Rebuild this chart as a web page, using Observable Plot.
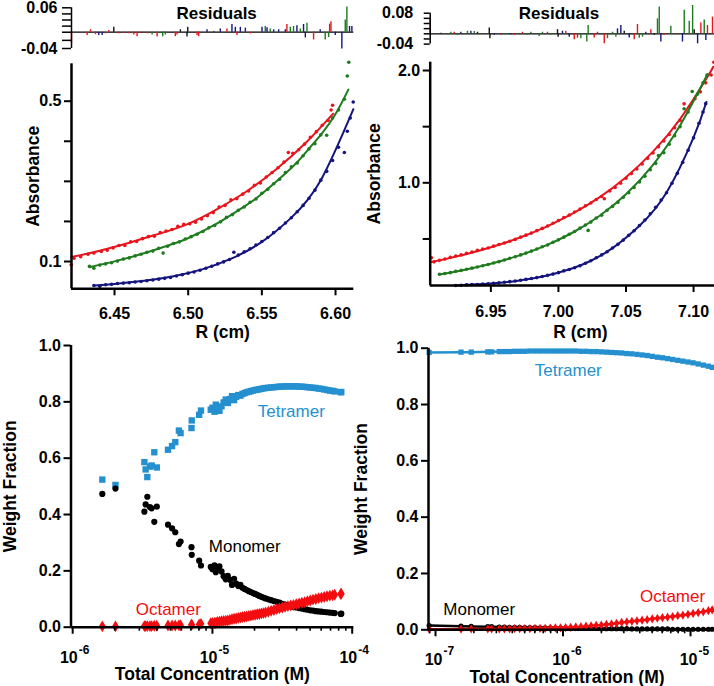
<!DOCTYPE html>
<html><head><meta charset="utf-8">
<script src="https://cdn.jsdelivr.net/npm/d3@7"></script>
<script src="https://cdn.jsdelivr.net/npm/@observablehq/plot@0.6"></script>
<style>
body{margin:0;background:#fff;}
#fig{position:relative;width:714px;height:686px;overflow:hidden;background:#fff;}
#fig svg{position:absolute;left:0;top:0;}
</style></head><body><div id="fig"></div>
<script>
// ---------------- Top-left: absorbance vs radius ----------------
const tlRedR = [6.4206,6.4225,6.427,6.432,6.436,6.441,6.445,6.449,6.453,6.457,6.461,6.465,6.469,6.473,6.477,6.481,6.485,6.489,6.493,6.497,6.501,6.505,6.509,6.513,6.517,6.521,6.525,6.529,6.533,6.537,6.541,6.545,6.549,6.553,6.557,6.561,6.565,6.568,6.571,6.575,6.579,6.583,6.587,6.591,6.595,6.597,6.598];
const tlRedA = [0.092,0.108,0.112,0.118,0.121,0.125,0.128,0.134,0.140,0.140,0.149,0.150,0.157,0.162,0.163,0.172,0.176,0.180,0.188,0.193,0.194,0.198,0.206,0.214,0.222,0.236,0.240,0.254,0.257,0.268,0.276,0.290,0.296,0.311,0.322,0.334,0.348,0.372,0.370,0.379,0.393,0.410,0.424,0.440,0.452,0.478,0.490];
const tlGreenR = [6.433,6.436,6.440,6.444,6.448,6.452,6.456,6.460,6.464,6.468,6.472,6.476,6.480,6.483,6.486,6.490,6.494,6.498,6.502,6.506,6.510,6.514,6.518,6.522,6.526,6.530,6.534,6.538,6.542,6.546,6.550,6.554,6.558,6.562,6.566,6.570,6.574,6.578,6.582,6.586,6.590,6.594,6.598,6.602,6.606,6.608,6.609];
const tlGreenA = [0.088,0.083,0.091,0.094,0.097,0.101,0.106,0.109,0.114,0.118,0.123,0.126,0.133,0.121,0.138,0.145,0.149,0.156,0.162,0.168,0.175,0.184,0.190,0.199,0.210,0.217,0.228,0.236,0.248,0.256,0.270,0.280,0.294,0.305,0.322,0.336,0.346,0.364,0.381,0.394,0.416,0.415,0.458,0.478,0.505,0.563,0.597];
const tlBlueR = [6.436,6.440,6.444,6.448,6.452,6.456,6.460,6.464,6.468,6.472,6.476,6.480,6.484,6.488,6.492,6.496,6.500,6.504,6.508,6.512,6.516,6.520,6.524,6.528,6.531,6.534,6.538,6.542,6.546,6.550,6.554,6.558,6.562,6.566,6.570,6.574,6.578,6.582,6.586,6.590,6.594,6.598,6.602,6.606,6.608,6.610,6.612];
const tlBlueA = [0.040,0.038,0.042,0.043,0.045,0.046,0.047,0.049,0.050,0.052,0.054,0.056,0.058,0.060,0.064,0.067,0.071,0.074,0.078,0.083,0.088,0.094,0.099,0.105,0.123,0.116,0.124,0.132,0.141,0.150,0.160,0.172,0.183,0.196,0.209,0.224,0.240,0.258,0.278,0.303,0.325,0.352,0.385,0.372,0.425,0.458,0.498];
const tlFitRedR = [6.4206,6.44,6.46,6.48,6.50,6.52,6.54,6.56,6.58,6.5984];
const tlFitRedA = [0.111,0.127,0.147,0.169,0.194,0.2315,0.276,0.331,0.397,0.469];
const tlFitGreenR = [6.4329,6.45,6.47,6.49,6.4998,6.52,6.54,6.55,6.57,6.58,6.5904,6.60,6.6087];
const tlFitGreenA = [0.0858,0.1003,0.1204,0.1444,0.158,0.1957,0.242,0.269,0.3335,0.373,0.418,0.468,0.529];
const tlFitBlueR = [6.4363,6.45,6.47,6.49,6.51,6.53,6.55,6.57,6.59,6.6121];
const tlFitBlueA = [0.040,0.044,0.0517,0.0631,0.081,0.1083,0.149,0.2095,0.303,0.48];
const tlXTicks = [6.45,6.50,6.55,6.60];
const tlXLabels = ["6.45","6.50","6.55","6.60"];
const tlYTicks = [0.1,0.2,0.3,0.4,0.5];
const tlYLabels = ["0.1","","","","0.5"];
// residuals (left)
const tlResR = [6.4208,6.4314,6.4337,6.4371,6.4393,6.4416,6.4439,6.4461,6.4495,6.4529,6.4563,6.4597,6.4631,6.4653,6.4676,6.4721,6.4755,6.4789,6.4827,6.4845,6.4913,6.4924,6.4947,6.4992,6.4997,6.5060,6.5071,6.5128,6.5173,6.5218,6.5263,6.5297,6.5320,6.5331,6.5354,6.5388,6.5422,6.5501,6.5523,6.5535,6.5557,6.5580,6.5614,6.5659,6.5670,6.5693,6.5715,6.5738,6.5761,6.5783,6.5795,6.5806,6.5851,6.5896,6.5930,6.5953,6.5960,6.5969,6.5998,6.6043,6.6066,6.6077,6.6095,6.6111];
const tlResV = [-0.029,-0.008,0.006,-0.006,-0.008,-0.008,-0.004,0.004,0.012,-0.004,-0.003,-0.004,-0.007,-0.011,-0.002,-0.004,-0.007,-0.012,-0.011,-0.007,-0.011,-0.007,0.006,-0.012,0.012,-0.008,-0.011,0.006,0.002,0.008,0.008,0.019,0.012,-0.008,0.012,0.010,-0.004,0.012,0.014,0.011,0.008,0.006,0.006,0.006,0.019,0.012,0.014,0.016,0.008,0.019,-0.014,0.022,-0.019,0.006,-0.019,-0.013,0.020,0.026,-0.008,-0.041,0.030,0.062,0.014,0.014];
const tlResC = ["r","r","r","r","b","b","r","r","k","r","r","r","r","r","r","r","g","r","g","g","r","r","k","k","k","r","r","b","b","b","r","b","b","r","b","b","r","b","g","b","g","b","b","b","r","g","g","b","g","b","b","g","r","b","g","g","r","r","b","b","g","g","b","b"];
const tlResTicks = [0.06,0.045,0.03,0.015,0,-0.02,-0.04];
const tlResLabelVals = [0.06,-0.04];
const tlResLabels = ["0.06","-0.04"];

// ---------------- Top-right: absorbance vs radius ----------------
const trRedR = [6.906,6.908,6.912,6.916,6.920,6.924,6.928,6.932,6.936,6.940,6.944,6.948,6.952,6.956,6.960,6.964,6.968,6.972,6.976,6.980,6.984,6.988,6.992,6.996,7.000,7.004,7.008,7.012,7.016,7.020,7.024,7.028,7.032,7.034,7.038,7.042,7.046,7.050,7.054,7.058,7.062,7.066,7.070,7.074,7.078,7.082,7.086,7.090,7.093,7.097,7.101,7.105,7.109,7.113,7.115];
const trRedA = [0.332,0.296,0.310,0.322,0.336,0.348,0.358,0.372,0.384,0.398,0.410,0.420,0.436,0.450,0.464,0.480,0.496,0.516,0.534,0.552,0.574,0.594,0.616,0.640,0.664,0.690,0.712,0.740,0.766,0.796,0.820,0.852,0.878,0.858,0.928,0.958,0.996,1.040,1.082,1.124,1.168,1.218,1.266,1.322,1.372,1.430,1.490,1.556,1.703,1.680,1.748,1.810,1.890,1.960,2.074];
const trGreenR = [6.912,6.916,6.920,6.924,6.928,6.932,6.936,6.940,6.944,6.948,6.952,6.956,6.960,6.964,6.968,6.972,6.976,6.980,6.984,6.988,6.992,6.996,7.000,7.004,7.008,7.012,7.016,7.020,7.022,7.024,7.028,7.032,7.036,7.040,7.044,7.048,7.052,7.056,7.060,7.064,7.068,7.072,7.074,7.078,7.082,7.086,7.090,7.093,7.096,7.099,7.103,7.107,7.110];
const trGreenA = [0.186,0.192,0.200,0.212,0.220,0.230,0.240,0.250,0.262,0.272,0.286,0.298,0.312,0.328,0.342,0.358,0.374,0.392,0.410,0.430,0.446,0.470,0.492,0.516,0.542,0.566,0.596,0.624,0.576,0.650,0.686,0.712,0.756,0.790,0.826,0.872,0.912,0.958,1.008,1.058,1.116,1.172,1.243,1.268,1.344,1.420,1.500,1.659,1.630,1.813,1.790,1.890,1.960];
const trBlueR = [6.924,6.928,6.932,6.936,6.940,6.944,6.948,6.952,6.956,6.960,6.964,6.968,6.972,6.976,6.980,6.984,6.988,6.992,6.996,7.000,7.004,7.008,7.012,7.016,7.020,7.024,7.028,7.032,7.036,7.040,7.044,7.048,7.052,7.056,7.060,7.064,7.068,7.072,7.076,7.080,7.084,7.088,7.092,7.096,7.100,7.104,7.107,7.109];
const trBlueA = [0.086,0.088,0.091,0.093,0.095,0.098,0.101,0.105,0.110,0.115,0.120,0.126,0.132,0.140,0.148,0.156,0.165,0.176,0.187,0.200,0.216,0.228,0.244,0.262,0.283,0.306,0.332,0.358,0.386,0.420,0.452,0.490,0.532,0.573,0.620,0.668,0.724,0.782,0.846,0.912,0.996,1.084,1.182,1.290,1.400,1.530,1.630,1.705];
const trFitRedR = [6.9061,6.93,6.95,6.97,6.99,7.01,7.03,7.05,7.07,7.09,7.11,7.1145];
const trFitRedA = [0.294,0.3595,0.426,0.506,0.6035,0.7225,0.868,1.050,1.278,1.567,1.937,2.033];
const trFitGreenR = [6.9118,6.93,6.95,6.97,6.99,7.01,7.03,7.05,7.07,7.09,7.1103];
const trFitGreenA = [0.184,0.224,0.279,0.349,0.4387,0.553,0.702,0.898,1.160,1.51,1.966];
const trFitBlueR = [6.9241,6.95,6.97,6.99,7.01,7.024,7.04,7.06,7.08,7.10,7.1095];
const trFitBlueA = [0.086,0.103,0.1285,0.170,0.2365,0.306,0.4185,0.618,0.913,1.404,1.72];
const trXTicks = [6.95,7.00,7.05,7.10];
const trXLabels = ["6.95","7.00","7.05","7.10"];
const trYTicks = [0.5,1.0,1.5,2.0];
const trYLabels = ["","1.0","","2.0"];
const trResR = [6.9051,6.9130,6.9204,6.9229,6.9253,6.9278,6.9327,6.9352,6.9377,6.9401,6.9488,6.9493,6.9525,6.9574,6.9599,6.9648,6.9673,6.9734,6.9771,6.9796,6.9858,6.9882,6.9919,6.9944,6.9993,6.9998,7.0030,7.0055,7.0080,7.0117,7.0141,7.0166,7.0210,7.0220,7.0265,7.0289,7.0339,7.0363,7.0400,7.0425,7.0437,7.0462,7.0487,7.0524,7.0561,7.0585,7.0598,7.0622,7.0647,7.0684,7.0709,7.0733,7.0746,7.0758,7.0783,7.0832,7.0869,7.0918,7.0931,7.0968,7.0993,7.1005,7.1030,7.1054,7.1079,7.1091,7.1103,7.1140];
const trResV = [0.058,0.002,0.006,0.006,-0.006,0.006,0.010,0.010,0.009,0.006,0.023,-0.019,-0.006,-0.006,-0.004,-0.004,-0.006,0.006,-0.006,0.006,-0.010,0.006,0.006,-0.006,0.016,-0.013,0.010,0.010,-0.013,-0.023,-0.017,-0.019,-0.032,0.032,-0.016,0.006,-0.039,-0.019,0.006,-0.013,0.019,0.032,0.010,-0.016,-0.023,0.036,-0.017,-0.013,0.006,0.016,-0.006,0.058,0.104,-0.032,-0.006,0.029,-0.004,-0.032,0.091,0.049,0.110,0.016,-0.039,0.042,0.054,-0.026,0.032,0.065];
const trResC = ["r","k","g","r","g","b","g","b","g","k","k","k","b","r","g","b","r","r","g","g","g","g","r","g","k","k","b","r","b","r","r","g","g","g","r","r","r","g","g","g","b","b","k","b","r","r","g","g","b","r","k","g","g","b","r","g","r","b","g","g","g","k","b","r","g","b","r","r"];
const trResTicks = [0.08,0.06,0.04,0.02,0,-0.02,-0.04];
const trResLabelVals = [0.08,-0.04];
const trResLabels = ["0.08","-0.04"];

// ---------------- Bottom-left: weight fraction vs log10 total concentration ----------------
const blLogC = [-5.788,-5.694,-5.487,-5.478,-5.466,-5.447,-5.435,-5.416,-5.398,-5.318,-5.289,-5.266,-5.240,-5.228,-5.150,-5.148,-5.095,-5.082,-5.012,-5.000,-4.985,-4.976,
 -4.965,-4.950,-4.935,-4.920,-4.905,-4.890,-4.875,-4.860,-4.845,-4.830,-4.815,-4.800,-4.785,-4.770,-4.755,-4.740,-4.725,-4.710,-4.695,-4.680,-4.665,-4.650,-4.635,-4.620,-4.600,-4.580,-4.560,-4.540,-4.520,-4.500,-4.480,-4.460,-4.440,-4.420,-4.400,-4.380,-4.360,-4.340,-4.320,-4.300,-4.280,-4.260,-4.240,-4.220,-4.200,-4.180,-4.160,-4.140,-4.125,-4.082,-4.078];
const blTet = [0.524,0.505,0.586,0.560,0.533,0.570,0.574,0.621,0.567,0.630,0.643,0.657,0.698,0.689,0.707,0.734,0.754,0.769,0.772,0.779,0.765,0.790,
 0.772,0.768,0.784,0.798,0.808,0.796,0.810,0.820,0.806,0.818,0.824,0.822,0.828,0.831,0.834,0.836,0.838,0.840,0.842,0.843,0.845,0.846,0.848,0.849,0.850,0.851,0.852,0.853,0.854,0.854,0.855,0.855,0.855,0.855,0.855,0.854,0.854,0.853,0.852,0.851,0.850,0.849,0.847,0.846,0.844,0.842,0.840,0.839,0.837,0.834,0.835];
const blMon = [0.473,0.492,0.410,0.436,0.463,0.426,0.422,0.374,0.428,0.364,0.351,0.337,0.295,0.304,0.284,0.257,0.236,0.219,0.214,0.206,0.220,0.195,
 0.210,0.216,0.198,0.181,0.170,0.182,0.168,0.150,0.172,0.155,0.146,0.150,0.140,0.136,0.132,0.128,0.125,0.121,0.118,0.115,0.111,0.108,0.105,0.102,0.099,0.096,0.093,0.090,0.087,0.083,0.080,0.077,0.075,0.072,0.070,0.068,0.066,0.064,0.062,0.060,0.059,0.057,0.056,0.055,0.054,0.053,0.052,0.051,0.050,0.047,0.048];
const blOct = [0.003,0.003,0.004,0.004,0.004,0.004,0.004,0.005,0.005,0.006,0.006,0.006,0.007,0.007,0.009,0.009,0.010,0.012,0.014,0.015,0.015,0.015,
 0.019,0.020,0.021,0.022,0.023,0.024,0.026,0.028,0.030,0.031,0.033,0.034,0.036,0.037,0.038,0.040,0.041,0.043,0.044,0.046,0.047,0.049,0.050,0.052,0.055,0.058,0.061,0.064,0.067,0.070,0.072,0.075,0.077,0.079,0.082,0.084,0.087,0.089,0.092,0.095,0.098,0.100,0.103,0.105,0.107,0.110,0.112,0.113,0.115,0.118,0.119];
const blMajorTicks = [1e-6,1e-5,1e-4];
const blMajorExp = ["-6","-5","-4"];
const blDecades = [1e-6,1e-5];
const minorMult = [2,3,4,5,6,7,8,9];
const wfTicks = [0,0.2,0.4,0.6,0.8,1.0];
const wfLabels = ["0.0","0.2","0.4","0.6","0.8","1.0"];
const noteText = ["Tetramer","Monomer","Octamer"];
const blNoteLogC = [-4.436,-4.769,-5.316];
const blNoteY = [0.766,0.288,0.062];

// ---------------- Bottom-right ----------------
const brLogC = [-7.05,-6.80,-6.72,-6.59,-6.56,-6.50,-6.46,-6.42,-6.38,-6.34,-6.30,-6.26,-6.22,-6.18,-6.14,-6.10,-6.06,-6.02,-5.98,-5.94,-5.90,-5.86,-5.82,-5.78,-5.74,-5.70,-5.66,-5.62,-5.58,-5.54,-5.50,-5.46,-5.42,-5.38,-5.34,-5.30,-5.26,-5.22,-5.18,-5.14,-5.10,-5.06,-5.02,-4.98,-4.94,-4.90,-4.86,-4.83];
const brTet = [0.985,0.986,0.986,0.987,0.987,0.988,0.988,0.988,0.989,0.989,0.989,0.990,0.990,0.990,0.990,0.990,0.990,0.990,0.990,0.990,0.990,0.989,0.989,0.988,0.988,0.987,0.986,0.985,0.984,0.983,0.981,0.980,0.978,0.976,0.974,0.971,0.968,0.966,0.963,0.960,0.957,0.954,0.951,0.948,0.944,0.940,0.936,0.932];
const brMon = [0.015,0.013,0.012,0.011,0.011,0.010,0.010,0.009,0.009,0.009,0.008,0.008,0.008,0.007,0.007,0.007,0.006,0.006,0.006,0.006,0.005,0.005,0.005,0.005,0.005,0.004,0.004,0.004,0.004,0.004,0.004,0.003,0.003,0.003,0.003,0.003,0.003,0.003,0.003,0.002,0.002,0.002,0.002,0.002,0.002,0.002,0.002,0.002];
const brOct = [0.002,0.002,0.003,0.003,0.003,0.003,0.003,0.003,0.004,0.004,0.004,0.004,0.005,0.005,0.005,0.006,0.007,0.007,0.008,0.009,0.010,0.011,0.013,0.014,0.016,0.017,0.019,0.021,0.023,0.026,0.028,0.030,0.032,0.034,0.036,0.039,0.041,0.043,0.045,0.047,0.050,0.052,0.055,0.058,0.061,0.064,0.068,0.071];
const brMajorTicks = [1e-7,1e-6,1e-5];
const brMajorExp = ["-7","-6","-5"];
const brDecades = [1e-8,1e-7,1e-6,1e-5];
const brNoteLogC = [-5.959,-6.657,-5.141];
const brNoteY = [0.921,0.071,0.118];

// ---------------- styling ----------------
const FONT = "'Liberation Sans', Arial, Helvetica, sans-serif";
const RED = "#e8141c", GREEN = "#1e7b1e", NAVY = "#14147f", DARK = "#111111";
const TET = "#2590d0", OCT = "#f20d10", MON = "#000000";
const resColor = {r: RED, g: GREEN, b: NAVY, k: DARK};
const noteColors = [TET, MON, OCT];
const TITLE = 17.5;
const W = 714, H = 686;
const fig = document.getElementById("fig");

function addPlot(box, x, y, marks) {
  const svg = Plot.plot({
    width: W, height: H,
    marginLeft: box.l, marginRight: W - box.r, marginTop: box.t, marginBottom: H - box.b,
    x, y,
    style: {background: "transparent", overflow: "visible", fontFamily: FONT, fontSize: "16px", fontWeight: "bold", color: "#000"},
    marks
  });
  fig.appendChild(svg);
}
const zip = (xs, ys) => xs.map((x, i) => ({x, y: ys[i]}));

function residualMarks(R, V, C, xmin, ticks, labelVals, labels, tickSize, tickPadding, title) {
  const rows = R.map((r, i) => ({r, v: V[i], c: C[i]}));
  return [
    Plot.ruleY([0], {stroke: "#000", strokeWidth: 1.2}),
    ...["r", "g", "b", "k"].map(code => Plot.ruleX(rows.filter(d => d.c === code), {x: "r", y1: 0, y2: "v", stroke: resColor[code], strokeWidth: 1.4})),
    Plot.ruleX([xmin], {stroke: "#000", strokeWidth: 1.5}),
    Plot.axisY({ticks, tickFormat: () => "", tickSize, strokeWidth: 1.5, label: null}),
    Plot.axisY({ticks: labelVals, tickFormat: d => labels[labelVals.indexOf(d)], tickSize: 0, tickPadding: tickSize + tickPadding, label: null, fontSize: 16}),
    title
  ];
}

function absorbanceMarks(series, xmin, ymin, xTicks, xLabels, yTicks, yLabels, xLabelDy, titleDx, titleDy, yTitleDx) {
  const m = [];
  for (const s of series) {
    m.push(Plot.line(zip(s.fr, s.fa), {x: "x", y: "y", stroke: s.c, strokeWidth: 2, curve: "natural"}));
    m.push(Plot.dot(zip(s.r, s.a), {x: "x", y: "y", r: 1.8, fill: s.c}));
  }
  m.push(Plot.ruleX([xmin], {stroke: "#000", strokeWidth: 2.5}));
  m.push(Plot.ruleY([ymin], {stroke: "#000", strokeWidth: 2.5}));
  m.push(Plot.axisX({ticks: xTicks, tickFormat: () => "", tickSize: 7, strokeWidth: 2, label: null}));
  m.push(Plot.text(xTicks, {x: d => d, text: (d, i) => xLabels[i], frameAnchor: "bottom", dy: xLabelDy, lineAnchor: "middle", fontSize: 16, fontWeight: "bold"}));
  m.push(Plot.axisY({ticks: yTicks, tickFormat: d => yLabels[yTicks.indexOf(d)], tickSize: 7, tickPadding: 3, strokeWidth: 2, label: null, fontSize: 16}));
  m.push(Plot.text(["R (cm)"], {text: d => d, frameAnchor: "bottom", dx: titleDx, dy: titleDy, lineAnchor: "middle", fontSize: TITLE, fontWeight: "bold"}));
  m.push(Plot.text(["Absorbance"], {text: d => d, frameAnchor: "left", dx: yTitleDx, rotate: -90, lineAnchor: "middle", textAnchor: "middle", fontSize: TITLE, fontWeight: "bold"}));
  return m;
}

function fractionMarks(logC, tet, mon, oct, withLines, xmin, majors, exps, decades, dom, notesX, notesY, yTitleDx, xTitleDx, tenDy, supDy, tenDx) {
  const rows = logC.map((l, i) => ({c: 10 ** l, t: tet[i], m: mon[i], o: oct[i]}));
  const minors = decades.flatMap(d => minorMult.map(k => k * d)).filter(v => v >= dom[0] && v <= dom[1]);
  const notes = noteText.map((t, i) => ({t, c: 10 ** notesX[i], y: notesY[i], col: noteColors[i]}));
  const m = [];
  if (withLines) {
    m.push(Plot.line(rows, {x: "c", y: "m", stroke: MON, strokeWidth: 2.5}));
    m.push(Plot.dot(rows, {x: "c", y: "m", r: 2.6, fill: MON}));
    m.push(Plot.line(rows, {x: "c", y: "o", stroke: OCT, strokeWidth: 2.5}));
    m.push(Plot.dot(rows, {x: "c", y: "o", r: 2.8, symbol: "diamond", fill: OCT}));
    m.push(Plot.line(rows, {x: "c", y: "t", stroke: TET, strokeWidth: 2.5}));
    m.push(Plot.dot(rows, {x: "c", y: "t", r: 3.0, symbol: "square", fill: TET}));
  } else {
    m.push(Plot.dot(rows, {x: "c", y: "t", r: 3.6, symbol: "square", fill: TET}));
    m.push(Plot.dot(rows, {x: "c", y: "m", r: 3.1, fill: MON}));
    m.push(Plot.dot(rows, {x: "c", y: "o", r: 3.6, symbol: "diamond", fill: OCT}));
  }
  m.push(Plot.ruleX([xmin], {stroke: "#000", strokeWidth: 2.5}));
  m.push(Plot.ruleY([0], {stroke: "#000", strokeWidth: 2.5}));
  m.push(Plot.axisX({ticks: majors, tickFormat: () => "", tickSize: 7, strokeWidth: 2, label: null}));
  m.push(Plot.axisX({ticks: minors, tickFormat: () => "", tickSize: 4, strokeWidth: 1.6, label: null}));
  m.push(Plot.text(majors, {x: d => d, text: () => "10", frameAnchor: "bottom", dx: tenDx, dy: tenDy, textAnchor: "end", lineAnchor: "middle", fontSize: 16, fontWeight: "bold"}));
  m.push(Plot.text(majors, {x: d => d, text: (d, i) => exps[i], frameAnchor: "bottom", dx: tenDx + 1, dy: supDy, textAnchor: "start", lineAnchor: "middle", fontSize: 12, fontWeight: "bold"}));
  m.push(Plot.axisY({ticks: wfTicks, tickFormat: d => wfLabels[wfTicks.indexOf(d)], tickSize: 7, tickPadding: 3, strokeWidth: 2, label: null, fontSize: 16}));
  m.push(Plot.text(notes, {x: "c", y: "y", text: "t", fill: "col", fontSize: 17, fontWeight: "normal", lineAnchor: "middle"}));
  m.push(Plot.text(["Total Concentration (M)"], {text: d => d, frameAnchor: "bottom", dx: xTitleDx, dy: 47.5, lineAnchor: "middle", fontSize: TITLE, fontWeight: "bold"}));
  m.push(Plot.text(["Weight Fraction"], {text: d => d, frameAnchor: "left", dx: yTitleDx, rotate: -90, lineAnchor: "middle", textAnchor: "middle", fontSize: TITLE, fontWeight: "bold"}));
  return m;
}

// ---- top-left residuals ----
const tlXDom = [6.4208, 6.6124];
addPlot({l: 71, r: 353.3, t: 7.3, b: 48}, {domain: tlXDom, axis: null}, {domain: [-0.04, 0.06]},
  residualMarks(tlResR, tlResV, tlResC, tlXDom[0], tlResTicks, tlResLabelVals, tlResLabels, 9, 5,
    Plot.text(["Residuals"], {text: d => d, frameAnchor: "top", dx: 4, dy: 5.4, lineAnchor: "middle", fontSize: 17, fontWeight: "bold"})));
// ---- top-left main ----
const tlYDom = [0.0319, 0.5933];
addPlot({l: 71, r: 353.3, t: 63.3, b: 288.3}, {domain: tlXDom}, {domain: tlYDom},
  absorbanceMarks([
    {r: tlRedR, a: tlRedA, fr: tlFitRedR, fa: tlFitRedA, c: RED},
    {r: tlGreenR, a: tlGreenA, fr: tlFitGreenR, fa: tlFitGreenA, c: GREEN},
    {r: tlBlueR, a: tlBlueA, fr: tlFitBlueR, fa: tlFitBlueA, c: NAVY}
  ], tlXDom[0], tlYDom[0], tlXTicks, tlXLabels, tlYTicks, tlYLabels, 24.7, 10, 43.4, -38));

// ---- top-right residuals ----
const trXDom = [6.9051, 7.1155];
addPlot({l: 429.7, r: 714, t: 12.7, b: 43.6}, {domain: trXDom, axis: null}, {domain: [-0.04, 0.08]},
  residualMarks(trResR, trResV, trResC, trXDom[0], trResTicks, trResLabelVals, trResLabels, 6, 11,
    Plot.text(["Residuals"], {text: d => d, frameAnchor: "top", dx: -13.4, dy: 0, lineAnchor: "middle", fontSize: 17, fontWeight: "bold"})));
// ---- top-right main ----
const trYDom = [0.0855, 2.074];
addPlot({l: 429.7, r: 714, t: 61.7, b: 285}, {domain: trXDom}, {domain: trYDom},
  absorbanceMarks([
    {r: trRedR, a: trRedA, fr: trFitRedR, fa: trFitRedA, c: RED},
    {r: trGreenR, a: trGreenA, fr: trFitGreenR, fa: trFitGreenA, c: GREEN},
    {r: trBlueR, a: trBlueA, fr: trFitBlueR, fa: trFitBlueA, c: NAVY}
  ], trXDom[0], trYDom[0], trXTicks, trXLabels, trYTicks, trYLabels, 26.7, 8, 46.7, -56));

// ---- bottom-left ----
const blXDom = [9.725e-7, 1.027e-4];
addPlot({l: 70.5, r: 353.3, t: 345, b: 626.7}, {type: "log", domain: blXDom}, {domain: [0, 1]},
  fractionMarks(blLogC, blTet, blMon, blOct, false, blXDom[0], blMajorTicks, blMajorExp, blDecades, blXDom,
    blNoteLogC, blNoteY, -60.5, 0, 30.5, 22.5, 5));
// ---- bottom-right ----
const brXDom = [8.81e-8, 1.542e-5];
addPlot({l: 428, r: 714, t: 347.7, b: 629.3}, {type: "log", domain: brXDom}, {domain: [0, 1]},
  fractionMarks(brLogC, brTet, brMon, brOct, true, brXDom[0], brMajorTicks, brMajorExp, brDecades, brXDom,
    brNoteLogC, brNoteY, -67, -4.5, 30.5, 21.5, 7));
</script></body></html>
